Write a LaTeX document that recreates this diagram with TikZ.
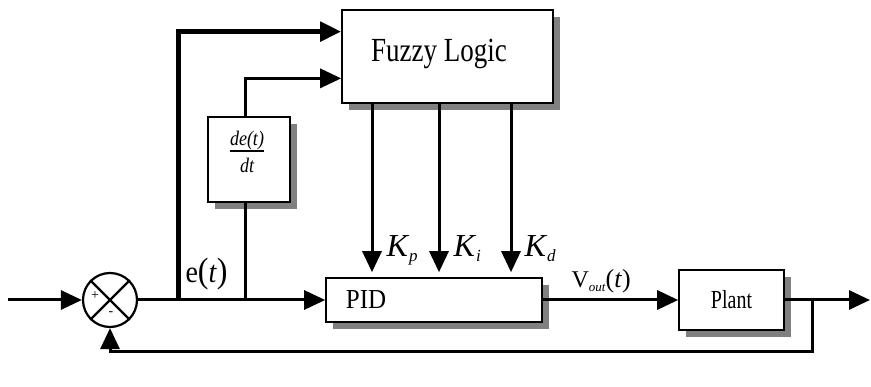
\documentclass[tikz,border=0pt]{standalone}
\usepackage{fontspec}
\setmainfont{Liberation Serif}
\usetikzlibrary{arrows.meta,shadows,calc}
\begin{document}
\begin{tikzpicture}[x=1pt,y=-1pt,line width=3pt,
  arr/.style={-{Triangle[length=21pt,width=19pt]}},
  blk/.style={draw,line width=1.6pt,fill=white,rectangle,inner sep=0pt,
    drop shadow={shadow xshift=7pt,shadow yshift=-7pt,fill=black!50,opacity=1}},
  lbl/.style={inner sep=0pt}]
\useasboundingbox (0,0) rectangle (871,387);
% blocks
\node[blk,minimum width=211pt,minimum height=93pt] (fuzzy) at (447.5,56.5) {};
\node[lbl,font=\fontsize{27}{27}\selectfont] (fuzzytxt) at (439,54) {\scalebox{1}[1.25]{Fuzzy Logic}};
\node[blk,minimum width=82pt,minimum height=85pt] (deriv) at (249,159.5) {};
\node[lbl,font=\fontsize{18}{18}\selectfont\itshape] (derivtxt) at (247,155)
  {\scalebox{1}[1.15]{\setlength{\arrayrulewidth}{1.5pt}\begin{tabular}{@{}c@{}}de(t)\\[-1pt]\hline\rule{0pt}{18pt}dt\end{tabular}}};
\node[blk,minimum width=216pt,minimum height=44pt] (pid) at (434,300) {};
\node[lbl,font=\fontsize{25}{25}\selectfont] (pidtxt) at (366,300) {\scalebox{1}[1.1]{PID}};
\node[blk,minimum width=105pt,minimum height=60pt,font=\fontsize{20}{20}\selectfont] (plant) at (731.5,300) {\scalebox{1}[1.3]{Plant}};
% summing junction
\node[circle,draw,line width=2.2pt,minimum size=54pt,inner sep=0pt] (sum) at (110,300) {};
\draw[line width=2.2pt] (sum.north west) -- (sum.south east) (sum.north east) -- (sum.south west);
\node[lbl,font=\fontsize{14}{14}\selectfont] (plus) at (95,296) {+};
\node[lbl,font=\fontsize{14}{14}\selectfont] (minus) at (111,314) {-};
% coordinates
\coordinate (in) at (8,300);
\coordinate (b1) at (178,300);
\coordinate (b2) at (245,300);
\coordinate (b3) at (812,300);
\coordinate (out) at (870,300);
\coordinate (fb) at (812,352);
\coordinate (f1) at ($(fuzzy.north west)!0.237!(fuzzy.south west)$);
\coordinate (f2) at ($(fuzzy.north west)!0.731!(fuzzy.south west)$);
\coordinate (kp) at (372,0);
\coordinate (ki) at (439,0);
\coordinate (kd) at (511,0);
% connectors
\draw[arr] (in) -- (sum.west);
\draw[arr] (sum.east) -- (pid.west);
\draw[arr,line width=5pt] (b1) |- (f1);
\draw (b2) -- (b2 |- deriv.south);
\draw[arr] (b2 |- deriv.north) |- (f2);
\draw[arr,shorten >=5pt] (kp |- fuzzy.south) -- (kp |- pid.north);
\draw[arr,shorten >=5pt] (ki |- fuzzy.south) -- (ki |- pid.north);
\draw[arr,shorten >=5pt] (kd |- fuzzy.south) -- (kd |- pid.north);
\draw[arr] (pid.east) -- (plant.west);
\draw[arr] (plant.east) -- (out);
\draw[arr] (b3) -- (fb) -| (sum.south);
% labels
\node[lbl,anchor=west,font=\fontsize{28}{28}\selectfont] (et) at (184,274) {\scalebox{1}[1.1]{e{\fontsize{32}{32}\selectfont(}\textit{t}{\fontsize{32}{32}\selectfont)}}};
\node[lbl,anchor=base west,font=\fontsize{32}{32}\selectfont] (kpl) at (385,257) {\textit{K}\raisebox{-5pt}{\fontsize{17}{17}\selectfont\textit{p}}};
\node[lbl,anchor=base west,font=\fontsize{32}{32}\selectfont] (kil) at (452,257) {\textit{K}\raisebox{-5pt}{\fontsize{17}{17}\selectfont\textit{i}}};
\node[lbl,anchor=base west,font=\fontsize{32}{32}\selectfont] (kdl) at (523,257) {\textit{K}\raisebox{-5pt}{\fontsize{17}{17}\selectfont\textit{d}}};
\node[lbl,anchor=base west,font=\fontsize{24}{24}\selectfont] (vout) at (570,288) {V\raisebox{-4pt}{\fontsize{13}{13}\selectfont\textit{out}}{\fontsize{26}{26}\selectfont(\textit{t})}};
\end{tikzpicture}
\end{document}
